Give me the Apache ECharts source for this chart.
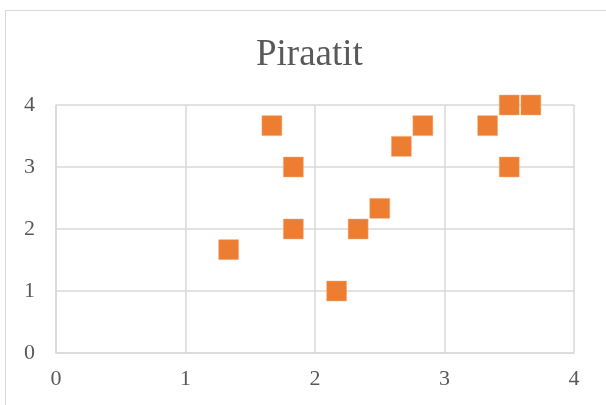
<!DOCTYPE html>
<html><head><meta charset="utf-8">
<script src="https://cdn.jsdelivr.net/npm/echarts@6/dist/echarts.min.js"></script>
<style>html,body{margin:0;padding:0;background:#fff}#c{width:606px;height:405px}</style>
</head><body><div id="c"></div>
<script>
var titleText = 'Piraatit';
var xValues = [1.333, 1.667, 1.833, 1.833, 2.167, 2.333, 2.5, 2.667, 2.833, 3.333, 3.5, 3.667, 3.5];
var yValues = [1.667, 3.667, 3, 2, 1, 2, 2.333, 3.333, 3.667, 3.667, 4, 4, 3];
var data = xValues.map(function(x,i){return [x, yValues[i]];});
var chart = echarts.init(document.getElementById('c'));
var font = '"Liberation Serif", "Times New Roman", serif';
chart.setOption({
  animation:false,
  graphic:[{type:'rect', shape:{x:5.5,y:10.5,width:620,height:420}, style:{fill:'none', stroke:'#d9d9d9', lineWidth:1}, z:-1}],
  title:{text:titleText, left:251, top:32, textStyle:{fontFamily:font, fontWeight:'normal', fontSize:37, color:'#595959'}},
  grid:{left:56, right:32, top:105, bottom:52},
  xAxis:{type:'value', min:0, max:4, interval:1,
    axisLine:{show:true, lineStyle:{color:'#d9d9d9', width:1.5}}, axisTick:{show:false},
    splitLine:{show:true, lineStyle:{color:'#d9d9d9', width:1.5}},
    axisLabel:{fontFamily:font, fontSize:22, color:'#595959', margin:15}},
  yAxis:{type:'value', min:0, max:4, interval:1,
    axisLine:{show:true, lineStyle:{color:'#d9d9d9', width:1.5}}, axisTick:{show:false},
    splitLine:{show:true, lineStyle:{color:'#d9d9d9', width:1.5}},
    axisLabel:{fontFamily:font, fontSize:22, color:'#595959', margin:21}},
  series:[{type:'scatter', data:data, symbol:'rect', symbolSize:20,
    itemStyle:{color:'#ED7D31', opacity:1, borderColor:'#f5b07e', borderWidth:0.5}}]
});
</script></body></html>
